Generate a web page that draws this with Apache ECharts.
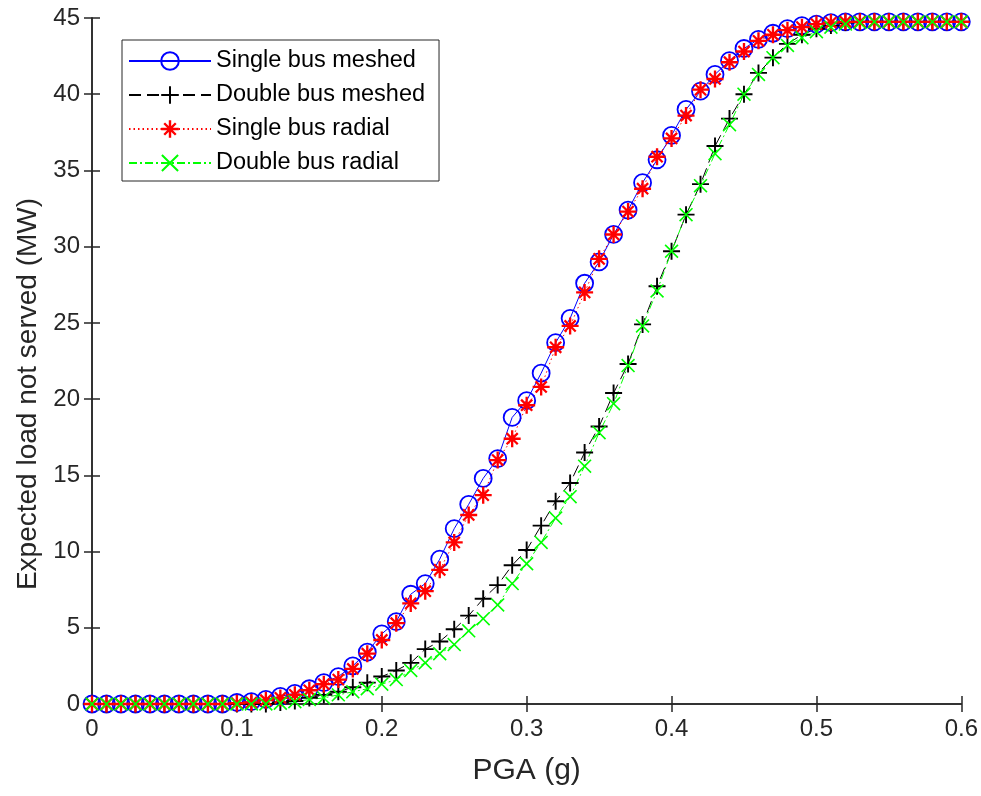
<!DOCTYPE html>
<html>
<head>
<meta charset="utf-8">
<script src="https://cdn.jsdelivr.net/npm/echarts@6/dist/echarts.min.js"></script>
<style>
  html, body { margin: 0; padding: 0; background: #fff; }
  #chart { width: 981px; height: 796px; }
</style>
</head>
<body>
<div id="chart"></div>
<script>
// PGA (g)
const pga = [
    0.00, 0.01, 0.02, 0.03, 0.04, 0.05, 0.06, 0.07, 0.08, 0.09,
    0.10, 0.11, 0.12, 0.13, 0.14, 0.15, 0.16, 0.17, 0.18, 0.19,
    0.20, 0.21, 0.22, 0.23, 0.24, 0.25, 0.26, 0.27, 0.28, 0.29,
    0.30, 0.31, 0.32, 0.33, 0.34, 0.35, 0.36, 0.37, 0.38, 0.39,
    0.40, 0.41, 0.42, 0.43, 0.44, 0.45, 0.46, 0.47, 0.48, 0.49,
    0.50, 0.51, 0.52, 0.53, 0.54, 0.55, 0.56, 0.57, 0.58, 0.59, 0.60
];

const singleBusMeshed = [
    0, 0, 0, 0, 0, 0, 0, 0, 0, 0,
    0.1, 0.15, 0.3, 0.5, 0.7, 1.0, 1.4, 1.8, 2.5, 3.4,
    4.6, 5.4, 7.2, 7.9, 9.5, 11.5, 13.1, 14.8, 16.1, 18.8,
    19.9, 21.7, 23.7, 25.3, 27.6, 29.0, 30.8, 32.4, 34.2, 35.7,
    37.3, 39.0, 40.2, 41.3, 42.2, 43.0, 43.6, 44.0, 44.3, 44.5,
    44.6, 44.7, 44.75, 44.75, 44.75, 44.75, 44.75, 44.75, 44.75, 44.75, 44.75
];

const doubleBusMeshed = [
    0, 0, 0, 0, 0, 0, 0, 0, 0, 0,
    0, 0, 0, 0.1, 0.2, 0.4, 0.6, 0.8, 1.1, 1.4,
    1.8, 2.2, 2.7, 3.6, 4.1, 4.9, 5.8, 6.9, 7.8, 9.1,
    10.1, 11.7, 13.3, 14.5, 16.5, 18.2, 20.4, 22.3, 24.9, 27.4,
    29.7, 32.1, 34.1, 36.6, 38.4, 40.0, 41.4, 42.4, 43.3, 43.9,
    44.3, 44.5, 44.7, 44.75, 44.75, 44.75, 44.75, 44.75, 44.75, 44.75, 44.75
];

const singleBusRadial = [
    0, 0, 0, 0, 0, 0, 0, 0, 0, 0,
    0.05, 0.1, 0.25, 0.4, 0.6, 0.9, 1.3, 1.6, 2.3, 3.3,
    4.2, 5.3, 6.6, 7.4, 8.8, 10.6, 12.4, 13.7, 16.0, 17.4,
    19.6, 20.8, 23.4, 24.8, 27.0, 29.2, 30.8, 32.3, 33.8, 35.9,
    37.1, 38.6, 40.3, 41.0, 42.1, 42.8, 43.5, 43.9, 44.2, 44.4,
    44.6, 44.7, 44.75, 44.75, 44.75, 44.75, 44.75, 44.75, 44.75, 44.75, 44.75
];

const doubleBusRadial = [
    0, 0, 0, 0, 0, 0, 0, 0, 0, 0,
    0, 0, 0, 0.05, 0.15, 0.3, 0.4, 0.6, 0.8, 1.0,
    1.3, 1.6, 2.2, 2.7, 3.3, 3.9, 4.8, 5.6, 6.5, 7.9,
    9.2, 10.6, 12.2, 13.6, 15.6, 17.8, 19.7, 22.2, 24.8, 27.1,
    29.7, 32.1, 34.0, 36.1, 38.0, 40.0, 41.3, 42.4, 43.2, 43.7,
    44.1, 44.4, 44.6, 44.7, 44.75, 44.75, 44.75, 44.75, 44.75, 44.75, 44.75
];

const seriesNames = ['Single bus meshed', 'Double bus meshed', 'Single bus radial', 'Double bus radial'];

// marker shapes (MATLAB style)
const plusPath = 'path://M7.1,0 H8.9 V7.1 H16 V8.9 H8.9 V16 H7.1 V8.9 H0 V7.1 H7.1 Z';
const crossPath = 'path://M0,1.3 L1.3,0 L8,6.7 L14.7,0 L16,1.3 L9.3,8 L16,14.7 L14.7,16 L8,9.3 L1.3,16 L0,14.7 L6.7,8 Z';
const starPath = 'path://M6.9,0 H9.1 V6.9 H16 V9.1 H9.1 V16 H6.9 V9.1 H0 V6.9 H6.9 Z ' +
    'M2,3.5 L3.5,2 L8,6.5 L12.5,2 L14,3.5 L9.5,8 L14,12.5 L12.5,14 L8,9.5 L3.5,14 L2,12.5 L6.5,8 Z';

function pairs(ys) {
    return pga.map(function (x, i) { return [x, ys[i]]; });
}

const axisColor = '#262626';
const fontFamily = '"Liberation Sans", Arial, sans-serif';
const narrowFont = '"Liberation Sans Narrow", "Arial Narrow", "Liberation Sans", sans-serif';

function makeSeries(name, ys, color, symbol, symbolSize, lineType, hollow) {
    return {
        name: name,
        type: 'line',
        data: pairs(ys),
        symbol: symbol,
        symbolSize: symbolSize,
        showSymbol: true,
        showAllSymbol: true,
        xAxisIndex: 0,
        yAxisIndex: 0,
        lineStyle: { color: color, width: 1, type: lineType },
        itemStyle: hollow
            ? { color: 'rgba(0,0,0,0)', borderColor: color, borderWidth: 1.8 }
            : { color: color, borderWidth: 0 },
        emphasis: { disabled: true }
    };
}

function getOption() {
    return {
        animation: false,
        backgroundColor: '#fff',
        textStyle: { fontFamily: fontFamily },
        grid: {
            left: 92,
            right: 19,
            top: 18,
            bottom: 92
        },
        legend: {
            orient: 'vertical',
            left: 122,
            top: 40,
            padding: [9, 14, 6, 6],
            itemGap: 10,
            itemWidth: 82,
            itemHeight: 22,
            borderColor: axisColor,
            borderWidth: 1,
            backgroundColor: '#fff',
            data: seriesNames,
            textStyle: { fontSize: 23.5, color: '#000', fontFamily: fontFamily }
        },
        xAxis: [
            {
                type: 'value',
                min: 0,
                max: 0.6,
                interval: 0.1,
                name: 'PGA (g)',
                nameLocation: 'middle',
                nameGap: 52,
                nameTextStyle: { fontSize: 30, color: axisColor, fontFamily: narrowFont },
                axisLine: { show: true, lineStyle: { color: axisColor, width: 1.5 } },
                axisTick: { show: true, inside: true, length: 8, lineStyle: { color: axisColor, width: 1.5 } },
                axisLabel: { fontSize: 24, color: axisColor, margin: 13, fontFamily: narrowFont },
                splitLine: { show: false }
            },
            {
                type: 'value',
                position: 'top',
                min: 0,
                max: 0.6,
                interval: 0.1,
                axisLine: { show: true, lineStyle: { color: axisColor, width: 1.5 } },
                axisTick: { show: true, inside: true, length: 8, lineStyle: { color: axisColor, width: 1.5 } },
                axisLabel: { show: false },
                splitLine: { show: false }
            }
        ],
        yAxis: [
            {
                type: 'value',
                min: 0,
                max: 45,
                interval: 5,
                name: 'Expected load not served (MW)',
                nameLocation: 'middle',
                nameGap: 50,
                nameTextStyle: { fontSize: 28, color: axisColor, padding: [0, 66, 0, 0] },
                axisLine: { show: true, lineStyle: { color: axisColor, width: 1.5 } },
                axisTick: { show: true, inside: true, length: 8, lineStyle: { color: axisColor, width: 1.5 } },
                axisLabel: { fontSize: 24, color: axisColor, margin: 12, fontFamily: narrowFont },
                splitLine: { show: false }
            },
            {
                type: 'value',
                position: 'right',
                min: 0,
                max: 45,
                interval: 5,
                axisLine: { show: true, lineStyle: { color: axisColor, width: 1.5 } },
                axisTick: { show: true, inside: true, length: 8, lineStyle: { color: axisColor, width: 1.5 } },
                axisLabel: { show: false },
                splitLine: { show: false }
            }
        ],
        series: [
            makeSeries(seriesNames[0], singleBusMeshed, '#0000ff', 'circle', 17, 'solid', true),
            makeSeries(seriesNames[1], doubleBusMeshed, '#000000', plusPath, 17, [12, 6], false),
            makeSeries(seriesNames[2], singleBusRadial, '#ff0000', starPath, 17, [1.5, 3], false),
            makeSeries(seriesNames[3], doubleBusRadial, '#00ff00', crossPath, 14, [8, 3, 2, 3], false)
        ]
    };
}

function draw() {
    let dom = document.getElementById('chart');
    let chart = echarts.init(dom, null, { renderer: 'canvas' });
    chart.setOption(getOption());
}

draw();
</script>
</body>
</html>
